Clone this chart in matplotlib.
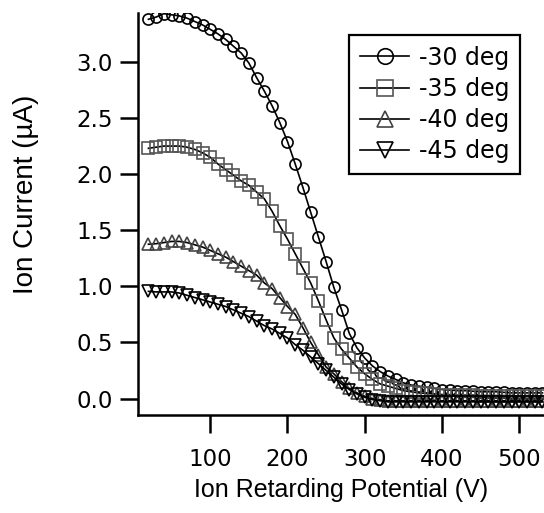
import numpy as np
import matplotlib
matplotlib.use('Agg')
import matplotlib.pyplot as plt

plt.rcParams['font.family'] = ['Liberation Sans', 'DejaVu Sans']

# retarding potential (V), one reading every 10 V
volts = list(range(20, 540, 10))

# ion current (uA)
cur_30 = [3.38, 3.40, 3.43, 3.42, 3.41, 3.39, 3.36, 3.33, 3.29, 3.25,
          3.20, 3.14, 3.08, 2.99, 2.86, 2.74, 2.61, 2.46, 2.29, 2.09,
          1.88, 1.66, 1.44, 1.22, 0.99, 0.79, 0.58, 0.45, 0.36, 0.29,
          0.24, 0.20, 0.17, 0.14, 0.12, 0.11, 0.10, 0.09, 0.08, 0.075,
          0.07, 0.07, 0.065, 0.06, 0.06, 0.06, 0.055, 0.05, 0.05, 0.05,
          0.05, 0.05]
cur_35 = [2.23, 2.24, 2.25, 2.25, 2.25, 2.24, 2.22, 2.19, 2.15, 2.09,
          2.04, 1.99, 1.94, 1.90, 1.84, 1.78, 1.67, 1.54, 1.42, 1.29,
          1.16, 1.03, 0.87, 0.70, 0.54, 0.44, 0.36, 0.28, 0.22, 0.17,
          0.13, 0.11, 0.09, 0.07, 0.06, 0.05, 0.045, 0.04, 0.035, 0.035,
          0.03, 0.03, 0.03, 0.025, 0.025, 0.025, 0.02, 0.02, 0.02, 0.02,
          0.02, 0.02]
cur_40 = [1.375, 1.38, 1.39, 1.40, 1.40, 1.39, 1.37, 1.35, 1.32, 1.29,
          1.26, 1.22, 1.18, 1.14, 1.10, 1.03, 0.98, 0.90, 0.82, 0.75,
          0.63, 0.50, 0.39, 0.28, 0.22, 0.15, 0.09, 0.05, 0.02, 0.0,
          -0.01, -0.02, -0.02, -0.02, -0.02, -0.02, -0.02, -0.02, -0.02, -0.02,
          -0.02, -0.02, -0.02, -0.02, -0.02, -0.02, -0.02, -0.02, -0.02, -0.02,
          -0.02, -0.02]
cur_45 = [0.955, 0.95, 0.95, 0.95, 0.94, 0.92, 0.90, 0.88, 0.86, 0.84,
          0.82, 0.79, 0.76, 0.73, 0.69, 0.65, 0.62, 0.58, 0.54, 0.48,
          0.43, 0.37, 0.31, 0.25, 0.19, 0.13, 0.08, 0.04, 0.01, -0.01,
          -0.02, -0.03, -0.03, -0.03, -0.03, -0.03, -0.03, -0.03, -0.03, -0.03,
          -0.03, -0.03, -0.03, -0.03, -0.03, -0.03, -0.03, -0.03, -0.03, -0.03,
          -0.03, -0.03]

labels = ['-30 deg', '-35 deg', '-40 deg', '-45 deg']

fig = plt.figure(figsize=(5.44, 5.13), dpi=100)
ax = fig.add_axes([138/544, 98/513, 406/544, 402/513])

styles = [('o', 'black'), ('s', '#555555'), ('^', '#444444'), ('v', 'black')]
for cur, lab, (mk, col) in zip([cur_30, cur_35, cur_40, cur_45], labels, styles):
    ax.plot(volts, cur, '-', color='black', lw=1.2, marker=mk, ms=8,
            mfc='none', mec=col, mew=1.2, label=lab)

ax.set_xlim(6.5, 532)
ax.set_ylim(-0.147, 3.436)
ax.set_xticks([100, 200, 300, 400, 500])
ax.set_yticks([0.0, 0.5, 1.0, 1.5, 2.0, 2.5, 3.0])
ax.set_yticklabels(['0.0', '0.5', '1.0', '1.5', '2.0', '2.5', '3.0'])

for s in ['top', 'right']:
    ax.spines[s].set_visible(False)
for s in ['left', 'bottom']:
    ax.spines[s].set_linewidth(1.8)

ax.tick_params(axis='both', direction='out', length=13, width=1.8,
               labelsize=16.5, labelfontfamily='DejaVu Sans')
ax.tick_params(axis='x', pad=11)
ax.tick_params(axis='y', pad=5)

ax.set_xlabel('Ion Retarding Potential (V)', fontsize=18, labelpad=5)
ax.set_ylabel('Ion Current (\u00b5A)', fontsize=20)
ax.yaxis.set_label_coords(-0.245, 0.55)

leg = ax.legend(loc='upper right', bbox_to_anchor=(0.941, 0.945), borderaxespad=0,
                prop={'family': 'DejaVu Sans', 'size': 17},
                handlelength=2.1, markerscale=1.4, fancybox=False,
                edgecolor='black', framealpha=1, labelspacing=0.3,
                handletextpad=0.4, borderpad=0.45)
leg.get_frame().set_linewidth(1.6)

fig.savefig('out.png', dpi=100)
